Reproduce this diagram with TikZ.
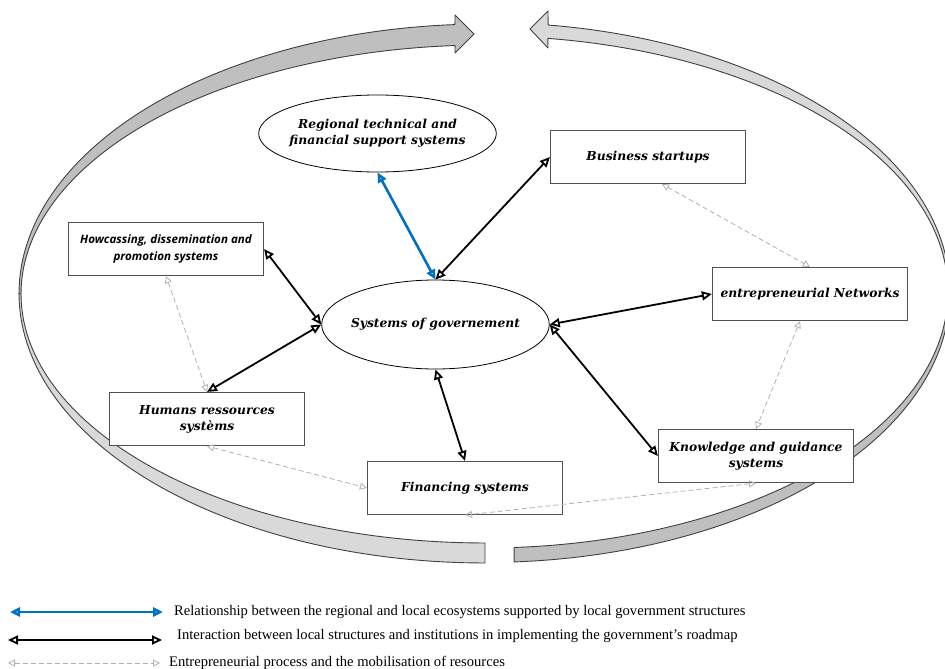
\documentclass[tikz,border=0pt]{standalone}
\usepackage{fontspec}
\setmainfont{Liberation Serif}
\newfontfamily\nodeserif{DejaVu Serif}
\newfontfamily\nodesans{Open Sans}
\usetikzlibrary{arrows.meta,shapes.geometric}
\definecolor{bandlight}{HTML}{D9D9D9}
\definecolor{banddark}{HTML}{BFBFBF}
\definecolor{bandedge}{HTML}{404040}
\definecolor{boxedge}{HTML}{505050}
\definecolor{relblue}{HTML}{0070C0}
\definecolor{dashgray}{HTML}{B0B0B0}
\begin{document}
\begin{tikzpicture}[x=1pt,y=-1pt,
  band/.style={draw=bandedge, line width=0.9pt, line join=round},
  box/.style={draw=boxedge, fill=white, line width=1.2pt, rectangle,
    minimum width=195pt, minimum height=53pt, align=center, inner sep=2pt},
  oval/.style={draw=black, fill=white, line width=0.8pt, ellipse, align=center,
    inner ysep=0pt, inner xsep=-4pt},
  serifbi/.style={font={\nodeserif\bfseries\itshape\fontsize{12.3}{16}\selectfont}},
  sansbi/.style={font={\nodesans\bfseries\itshape\fontsize{11.6}{17}\selectfont}},
  legendtxt/.style={font={\fontsize{14.6}{16}\selectfont}, anchor=west, inner sep=0pt},
  link/.style={draw=black, line width=1.8pt,
    arrows={Triangle[open,length=10pt,width=9pt]-Triangle[open,length=10pt,width=9pt]}},
  bluelink/.style={draw=relblue, line width=2.6pt,
    arrows={Triangle[open,length=10pt,width=9pt]-Triangle[open,length=10pt,width=9pt]}},
  dlink/.style={draw=dashgray, line width=0.8pt, dash pattern=on 5pt off 3pt,
    arrows={Triangle[open,length=7pt,width=7pt]-Triangle[open,length=7pt,width=7pt]}}
]
\useasboundingbox (0,0) rectangle (945,669);

% curved band arrows
\path[band, fill=bandlight]
  plot[domain=90:180, samples=60, variable=\t] ({485+466*cos(\t)}, {293.5+269.5*sin(\t)})
  -- plot[domain=180:90, samples=60, variable=\t] ({485+464*cos(\t)}, {294+249*sin(\t)})
  -- cycle;
\path[band, fill=banddark]
  plot[domain=180:266.3, samples=60, variable=\t] ({485+466*cos(\t)}, {293.5+269.5*sin(\t)})
  -- (455,15) -- (474,34) -- (455,53)
  -- plot[domain=266.3:180, samples=60, variable=\t] ({485+464*cos(\t)}, {294+249*sin(\t)})
  -- cycle;
\path[band, fill=banddark]
  plot[domain=0:86.4, samples=60, variable=\t] ({485+465*cos(\t)}, {292.5+270*sin(\t)})
  -- plot[domain=86.4:0, samples=60, variable=\t] ({485+463*cos(\t)}, {292+256*sin(\t)})
  -- cycle;
\path[band, fill=bandlight]
  plot[domain=0:-82.2, samples=60, variable=\t] ({485+465*cos(\t)}, {292.5+270*sin(\t)})
  -- (548,11) -- (530,29) -- (548,48)
  -- plot[domain=-82.2:0, samples=60, variable=\t] ({485+463*cos(\t)}, {292+256*sin(\t)})
  -- cycle;

% nodes
\node[oval, minimum width=229pt, minimum height=77pt, serifbi] (reg) at (377.5,133.5) {Regional technical and\\financial support systems};
\node[oval, minimum width=227pt, minimum height=89pt, serifbi] (gov) at (435.5,324.5) {Systems of governement};
\node[box, serifbi] (bus) at (648,157) {Business startups};
\node[box, sansbi] (how) at (166,249) {Howcassing, dissemination and\\promotion systems};
\node[box, serifbi] (net) at (810,294) {entrepreneurial Networks};
\node[box, serifbi] (hum) at (207,419) {Humans ressources\\systèms};
\node[box, serifbi] (fin) at (465,488) {Financing systems};
\node[box, serifbi] (kno) at (756,456) {Knowledge and guidance\\systems};

% dashed process links
\draw[dlink] ([xshift=14pt]bus.south) -- (net.north);
\draw[dlink] ([xshift=-10pt]net.south) -- (kno.north);
\draw[dlink] (kno.south) -- (fin.south);
\draw[dlink] (hum.south) -- (fin.west);
\draw[dlink] (how.south) -- (hum.north);

% interaction links
\draw[link] (gov.north) -- (bus.west);
\draw[link] (how.east) -- (gov.west);
\draw[link] (hum.north) -- (gov.west);
\draw[link] (gov.east) -- (net.west);
\draw[link] (gov.east) -- (kno.west);
\draw[link] (gov.south) -- (fin.north);
\draw[bluelink] (reg.south) -- (gov.north);

% legend
\coordinate (la1) at (10,612); \coordinate (la2) at (163,612);
\coordinate (lb1) at (8,640);  \coordinate (lb2) at (162,640);
\coordinate (lc1) at (8,663);  \coordinate (lc2) at (160,663);
\draw[bluelink] (la1) -- (la2);
\draw[link] (lb1) -- (lb2);
\draw[dlink] (lc1) -- (lc2);
\node[legendtxt] (lta) at (174,612) {Relationship between the regional and local ecosystems supported by local government structures};
\node[legendtxt] (ltb) at (177,636) {Interaction between local structures and institutions in implementing the government's roadmap};
\node[legendtxt] (ltc) at (169,663) {Entrepreneurial process and the mobilisation of resources};
\end{tikzpicture}
\end{document}
